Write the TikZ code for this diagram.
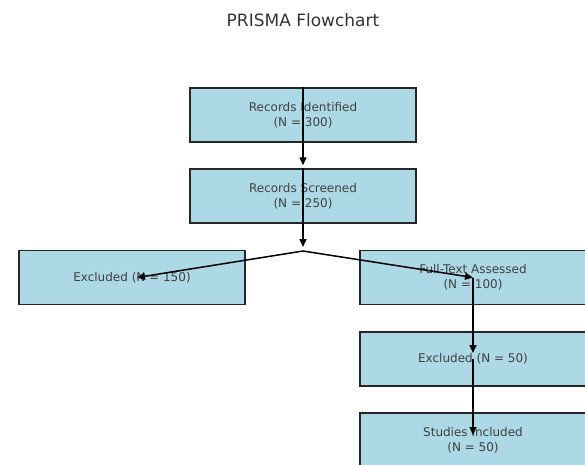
\documentclass[tikz,border=0pt]{standalone}
\usepackage{fontspec}
\setmainfont{DejaVu Sans}
\usetikzlibrary{arrows.meta}
\definecolor{lightbox}{HTML}{ADD8E6}

\begin{document}
\begin{tikzpicture}[x=1pt,y=-1pt]
\tikzset{
  stagebox/.style={draw=black!85,line width=1.5pt,fill=lightbox,minimum width=226pt,minimum height=54pt,
    inner sep=0pt,align=center,font=\fontsize{12}{15}\selectfont,text=black!75},
  flow/.style={line width=1.5pt,-{Triangle[length=8pt,width=7pt]}}
}
\useasboundingbox (0,0) rectangle (585,464);
\clip (0,0) rectangle (585,464);
\node[font=\fontsize{17}{20}\selectfont,text=black!80] (title) at (303,20) {PRISMA Flowchart};
% main column
\node[stagebox] (ident) at (303,115) {Records Identified\\(N = 300)};
\node[stagebox] (screen) at (303,196) {Records Screened\\(N = 250)};
% branches
\node[stagebox] (exclA) at (132,277.5) {Excluded (N = 150)};
\node[stagebox] (full) at (473,277.5) {Full-Text Assessed\\(N = 100)};
\node[stagebox] (exclB) at (473,359) {Excluded (N = 50)};
\node[stagebox] (incl) at (473,440) {Studies Included\\(N = 50)};
\coordinate (split) at (303,251);
\draw[flow] (ident.north) -- ([yshift=3pt]screen.north);
\draw[flow] (screen.north) -- ([yshift=4pt]split);
\draw[flow] (split) -- ([xshift=5pt]exclA.center);
\draw[flow] (split) -- (full.center);
\draw[flow] (full.center) -- ([yshift=6pt]exclB.center);
\draw[flow] (exclB.center) -- ([yshift=5pt]incl.center);
\end{tikzpicture}
\end{document}
